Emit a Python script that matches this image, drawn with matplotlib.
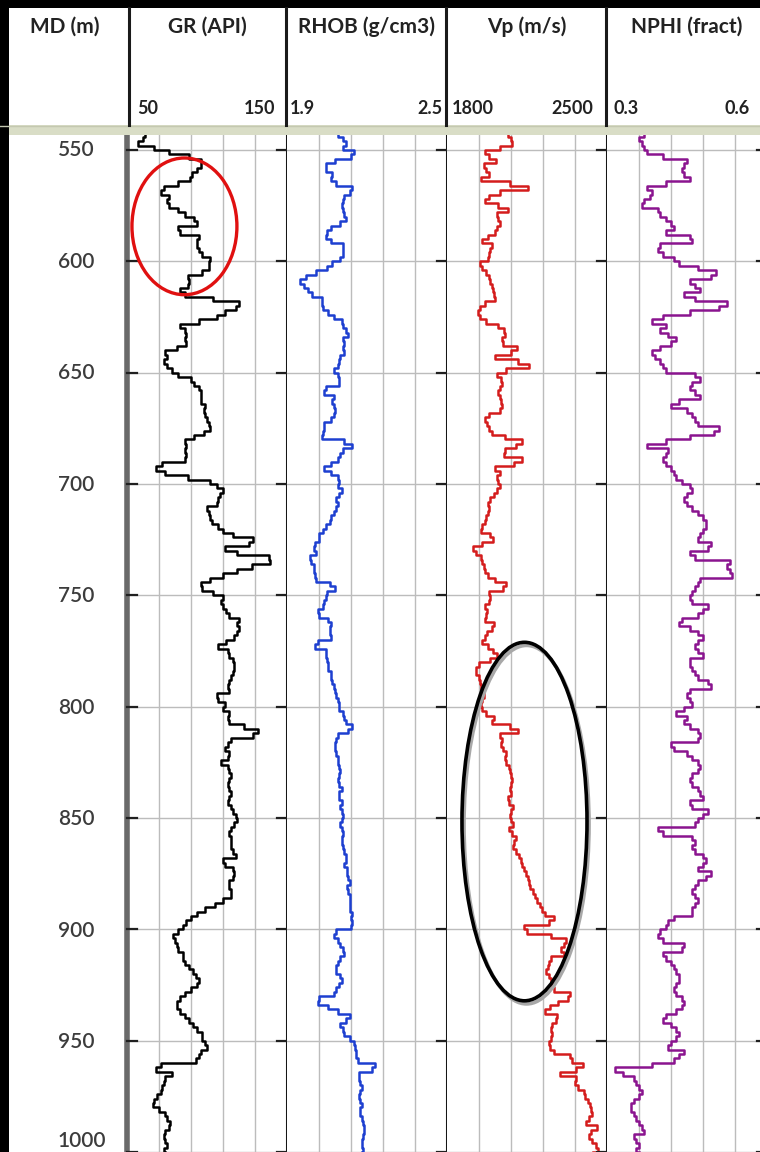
import numpy as np
import matplotlib
matplotlib.use('Agg')
import matplotlib.pyplot as plt
from matplotlib.patches import Ellipse, Rectangle

plt.rcParams['font.family'] = ['Lato', 'DejaVu Sans']

# sample depths (m), one reading every 2 m
DEPTH = np.arange(542, 1001, 2)

GR = [56, 66, 54, 60, 74, 78, 100, 92, 100, 88,
      93, 86, 78, 68, 74, 78, 72, 80, 84, 88,
      96, 92, 72, 94, 96, 92, 96, 94, 100, 104,
      98, 104, 90, 86, 92, 84, 82, 90, 118, 122,
      114, 108, 104, 86, 80, 92, 82, 90, 84, 78,
      70, 80, 66, 84, 72, 92, 88, 96, 94, 98,
      95, 98, 100, 96, 102, 98, 104, 100, 96, 88,
      84, 90, 82, 92, 80, 64, 72, 76, 100, 104,
      108, 112, 104, 110, 102, 98, 104, 100, 106, 108,
      112, 120, 138, 114, 108, 130, 147, 132, 124, 114,
      106, 98, 94, 100, 108, 112, 106, 114, 110, 118,
      122, 116, 124, 114, 120, 104, 110, 116, 112, 120,
      114, 120, 112, 118, 110, 116, 112, 100, 114, 108,
      112, 116, 110, 118, 128, 136, 122, 108, 118, 104,
      124, 102, 116, 110, 118, 112, 116, 110, 118, 112,
      116, 110, 120, 112, 124, 114, 120, 110, 118, 112,
      118, 112, 120, 116, 104, 118, 114, 120, 112, 116,
      112, 118, 112, 108, 102, 96, 92, 88, 86, 84,
      80, 78, 82, 80, 84, 86, 84, 88, 90, 92,
      94, 96, 92, 88, 84, 82, 80, 82, 84, 88,
      90, 92, 96, 98, 96, 102, 98, 94, 96, 90,
      52, 84, 72, 76, 70, 74, 68, 70, 64, 68,
      72, 76, 74, 80, 72, 76, 70, 78, 72, 74]

RHOB = [2.10, 2.08, 2.14, 2.10, 2.12, 2.18, 2.10, 2.06, 2.03, 2.06,
        2.08, 2.05, 2.12, 2.17, 2.10, 2.13, 2.09, 2.12, 2.10, 2.13,
        2.11, 2.09, 2.04, 2.06, 2.03, 2.10, 2.12, 2.10, 2.12, 2.08,
        2.06, 2.04, 1.98, 1.96, 1.94, 1.99, 1.97, 2.02, 2.04, 2.02,
        2.05, 2.06, 2.09, 2.12, 2.10, 2.14, 2.12, 2.10, 2.13, 2.09,
        2.14, 2.06, 2.13, 2.05, 2.10, 2.08, 2.11, 2.08, 2.01, 2.07,
        2.08, 2.06, 2.09, 2.07, 2.08, 2.05, 2.03, 2.05, 2.02, 2.04,
        2.19, 2.10, 2.12, 2.08, 2.10, 2.03, 2.05, 2.08, 2.10, 2.09,
        2.09, 2.12, 2.07, 2.10, 2.08, 2.09, 2.06, 2.07, 2.05, 2.04,
        2.03, 2.01, 2.03, 1.98, 2.02, 2.00, 1.97, 2.01, 1.99, 2.01,
        2.00, 2.02, 2.10, 2.06, 2.04, 2.05, 2.03, 2.04, 1.99, 2.05,
        2.06, 2.07, 2.05, 2.07, 2.06, 1.97, 2.04, 2.05, 2.04, 2.06,
        2.05, 2.06, 2.07, 2.06, 2.08, 2.07, 2.09, 2.08, 2.10, 2.09,
        2.10, 2.12, 2.11, 2.13, 2.16, 2.10, 2.08, 2.09, 2.07, 2.09,
        2.08, 2.10, 2.08, 2.11, 2.09, 2.10, 2.08, 2.11, 2.10, 2.09,
        2.10, 2.11, 2.09, 2.12, 2.10, 2.11, 2.09, 2.12, 2.10, 2.11,
        2.10, 2.12, 2.11, 2.13, 2.11, 2.12, 2.13, 2.12, 2.14, 2.13,
        2.12, 2.14, 2.13, 2.14, 2.13, 2.14, 2.15, 2.13, 2.16, 2.12,
        2.05, 2.10, 2.08, 2.12, 2.10, 2.13, 2.07, 2.11, 2.06, 2.11,
        2.09, 2.12, 2.07, 2.10, 2.05, 1.99, 2.04, 2.07, 2.11, 2.16,
        2.08, 2.12, 2.10, 2.13, 2.14, 2.16, 2.15, 2.17, 2.15, 2.18,
        2.28, 2.16, 2.18, 2.16, 2.19, 2.17, 2.18, 2.16, 2.19, 2.17,
        2.18, 2.17, 2.19, 2.18, 2.20, 2.18, 2.19, 2.17, 2.19, 2.18]

VP = [2080, 2050, 2110, 2060, 2000, 1930, 2040, 1990, 1930, 2010,
      1960, 1940, 2210, 2100, 1960, 2010, 1920, 2130, 2000, 2040,
      2010, 2050, 1990, 2030, 1930, 1980, 2010, 1970, 2000, 1960,
      1930, 1980, 1960, 2010, 1970, 2020, 1980, 2030, 1990, 1945,
      1940, 1935, 1950, 1990, 2060, 2040, 2070, 2010, 2080, 2130,
      2030, 1990, 2230, 2090, 2030, 2010, 2060, 2020, 2040, 2010,
      2050, 2020, 2060, 2000, 1970, 1960, 1990, 1980, 2010, 2100,
      2160, 2040, 2070, 2030, 2230, 1960, 2060, 2000, 2040, 2010,
      2050, 1990, 2020, 1960, 2000, 1970, 1990, 1950, 1980, 1930,
      1970, 2010, 1990, 1920, 1910, 1940, 1960, 1950, 1970, 1960,
      2000, 2020, 2100, 1990, 1980, 1995, 1970, 1960, 1990, 1950,
      1980, 2030, 1960, 1990, 1940, 1970, 1990, 2010, 2030, 1950,
      1930, 1920, 1930, 1950, 1940, 1960, 1950, 1970, 1940, 1960,
      1950, 1990, 2020, 1970, 2180, 2040, 2020, 2060, 2010, 2080,
      2040, 2070, 2050, 2090, 2060, 2100, 2070, 2090, 2060, 2100,
      2030, 2110, 2070, 2090, 2060, 2100, 2080, 2060, 2110, 2090,
      2100, 2080, 2120, 2110, 2140, 2120, 2150, 2140, 2170, 2150,
      2180, 2170, 2200, 2190, 2220, 2210, 2250, 2290, 2200, 2070,
      2230, 2280, 2360, 2260, 2340, 2280, 2230, 2260, 2220, 2250,
      2240, 2270, 2250, 2290, 2390, 2270, 2300, 2200, 2260, 2300,
      2250, 2270, 2240, 2280, 2230, 2260, 2240, 2300, 2380, 2310,
      2480, 2250, 2340, 2390, 2330, 2420, 2380, 2430, 2400, 2450,
      2410, 2460, 2380, 2440, 2470, 2390, 2450, 2420, 2480, 2440]

NPHI = [0.39, 0.35, 0.37, 0.36, 0.38, 0.37, 0.44, 0.46, 0.43, 0.45,
        0.44, 0.47, 0.35, 0.40, 0.37, 0.39, 0.35, 0.38, 0.41, 0.39,
        0.43, 0.41, 0.44, 0.38, 0.53, 0.39, 0.41, 0.38, 0.43, 0.42,
        0.45, 0.49, 0.52, 0.47, 0.44, 0.49, 0.46, 0.43, 0.50, 0.55,
        0.47, 0.44, 0.37, 0.40, 0.42, 0.38, 0.45, 0.41, 0.43, 0.37,
        0.40, 0.38, 0.42, 0.39, 0.43, 0.50, 0.45, 0.47, 0.44, 0.49,
        0.46, 0.41, 0.43, 0.47, 0.45, 0.48, 0.46, 0.56, 0.44, 0.47,
        0.35, 0.40, 0.43, 0.39, 0.42, 0.40, 0.44, 0.41, 0.45, 0.43,
        0.48, 0.44, 0.46, 0.43, 0.47, 0.45, 0.49, 0.47, 0.50, 0.47,
        0.49, 0.46, 0.48, 0.51, 0.47, 0.44, 0.49, 0.57, 0.48, 0.58,
        0.49, 0.46, 0.48, 0.45, 0.47, 0.44, 0.48, 0.50, 0.46, 0.48,
        0.40, 0.47, 0.44, 0.50, 0.46, 0.48, 0.45, 0.49, 0.47, 0.44,
        0.47, 0.45, 0.48, 0.46, 0.52, 0.47, 0.44, 0.46, 0.45, 0.47,
        0.42, 0.44, 0.46, 0.43, 0.48, 0.46, 0.49, 0.45, 0.39, 0.46,
        0.44, 0.48, 0.46, 0.49, 0.45, 0.47, 0.44, 0.48, 0.46, 0.49,
        0.47, 0.44, 0.48, 0.50, 0.46, 0.48, 0.45, 0.34, 0.47, 0.45,
        0.48, 0.44, 0.49, 0.47, 0.50, 0.46, 0.48, 0.51, 0.46, 0.48,
        0.45, 0.47, 0.46, 0.48, 0.45, 0.47, 0.45, 0.40, 0.43, 0.39,
        0.41, 0.38, 0.43, 0.46, 0.42, 0.39, 0.43, 0.41, 0.44, 0.42,
        0.45, 0.42, 0.44, 0.41, 0.45, 0.43, 0.46, 0.42, 0.44, 0.38,
        0.43, 0.41, 0.45, 0.42, 0.44, 0.40, 0.43, 0.46, 0.41, 0.44,
        0.33, 0.30, 0.36, 0.34, 0.37, 0.35, 0.38, 0.34, 0.36, 0.33,
        0.36, 0.34, 0.37, 0.35, 0.38, 0.36, 0.34, 0.37, 0.35, 0.36]

TRACK_NAMES = ["GR (API)", "RHOB (g/cm3)", "Vp (m/s)", "NPHI (fract)"]
SCALE_MIN = [50, 1.9, 1800, 0.3]
SCALE_MAX = [150, 2.5, 2500, 0.6]
SCALE_MIN_TXT = ["50", "1.9", "1800", "0.3"]
SCALE_MAX_TXT = ["150", "2.5", "2500", "0.6"]
CURVES = [GR, RHOB, VP, NPHI]
COLORS = ["black", "#1d3fd0", "#d41c1c", "#8a148f"]
DEPTH_TICKS = list(range(550, 1001, 50))

W, H = 760, 1152
TOP, LEFT0, TW = 135, 127, 160
PX_PER_M = 2.23
Y550 = 150
# padding (px) of scale labels from track edges
PAD_L = [10, 3, 5, 6]
PAD_R = [12, 5, 14, 17]


def frac(x0, y0, x1, y1):
    return [x0 / W, 1 - y1 / H, (x1 - x0) / W, (y1 - y0) / H]


d_top = 550 + (TOP - Y550) / PX_PER_M
d_bot = 550 + (H - Y550) / PX_PER_M

fig = plt.figure(figsize=(W / 100, H / 100), dpi=100)
fig.patch.set_facecolor('white')

# depth column
axmd = fig.add_axes(frac(8, TOP, LEFT0, H))
axmd.set_ylim(d_bot, d_top)
axmd.set_xlim(0, 1)
axmd.axis('off')
for d in DEPTH_TICKS:
    yy = min(d, 994.5)
    axmd.text(0.42, yy, str(d), ha='left', va='center', fontsize=15,
              color='#3c3c3c', fontweight='semibold')

axes = []
for i, (vals, lo, hi, col) in enumerate(zip(CURVES, SCALE_MIN, SCALE_MAX, COLORS)):
    x0 = LEFT0 + i * TW
    ax = fig.add_axes(frac(x0, TOP, x0 + TW, H))
    ax.plot(vals, DEPTH, color=col, lw=1.8, drawstyle='steps-mid', zorder=3)
    ax.set_xlim(lo, hi)
    ax.set_ylim(d_bot, d_top)
    ax.set_xticks(np.linspace(lo, hi, 6)[1:-1])
    ax.set_yticks(DEPTH_TICKS)
    ax.grid(True, color='#bcbcbc', lw=1.0)
    ax.set_axisbelow(True)
    ax.tick_params(length=0, labelbottom=False, labelleft=False)
    for s in ('top', 'bottom', 'left'):
        ax.spines[s].set_visible(False)
    ax.spines['right'].set_color('#151515')
    ax.spines['right'].set_linewidth(2.2)
    if i == 0:
        ax.spines['left'].set_visible(True)
        ax.spines['left'].set_color('#6a6a6a')
        ax.spines['left'].set_linewidth(4)
    tr = ax.get_yaxis_transform()
    for d in DEPTH_TICKS:
        ax.plot([1 - 10 / TW, 1 + 10 / TW], [d, d], transform=tr, clip_on=False,
                color='#202020', lw=1.6, zorder=4)
        if i == 0:
            ax.plot([0, 10 / TW], [d, d], transform=tr, clip_on=False,
                    color='#202020', lw=1.6, zorder=4)
    axes.append(ax)

# annotation ellipses
axes[0].add_patch(Ellipse((85.9, 584.3), 65.6, 61.4, fill=False,
                          ec='#e01010', lw=2.4, zorder=5))
axes[2].add_patch(Ellipse((2148, 853.0), 547, 161, fill=False,
                          ec='#a8a8a8', lw=2.6, zorder=5))
axes[2].add_patch(Ellipse((2139, 851.6), 547, 161, fill=False,
                          ec='black', lw=2.6, zorder=6))

# header and frame
ov = fig.add_axes([0, 0, 1, 1])
ov.set_xlim(0, W)
ov.set_ylim(H, 0)
ov.axis('off')
ov.add_patch(Rectangle((0, 125), W, 10, color='#d9ddc6', lw=0))
ov.plot([0, W], [125.5, 125.5], color='#c4c8b0', lw=1)
ov.add_patch(Rectangle((0, 0), W, 8, color='black', lw=0))
ov.add_patch(Rectangle((0, 0), 9, H, color='black', lw=0))
for xs in (129, 286, 446, 606):
    ov.plot([xs, xs], [8, 125], color='#1a1a1a', lw=2.2)

ov.text(65, 27, "MD (m)", ha='center', va='center', fontsize=15,
        fontweight='bold', color='#222222')
for i, name in enumerate(TRACK_NAMES):
    x0 = LEFT0 + i * TW
    ov.text(x0 + TW / 2, 27, name, ha='center', va='center', fontsize=15,
            fontweight='bold', color='#222222')
    ov.text(x0 + PAD_L[i], 109, SCALE_MIN_TXT[i], ha='left', va='center',
            fontsize=13, fontweight='bold', color='#222222')
    ov.text(x0 + TW - PAD_R[i], 109, SCALE_MAX_TXT[i], ha='right', va='center',
            fontsize=13, fontweight='bold', color='#222222')

fig.savefig('out.png', dpi=100)
plt.close(fig)
